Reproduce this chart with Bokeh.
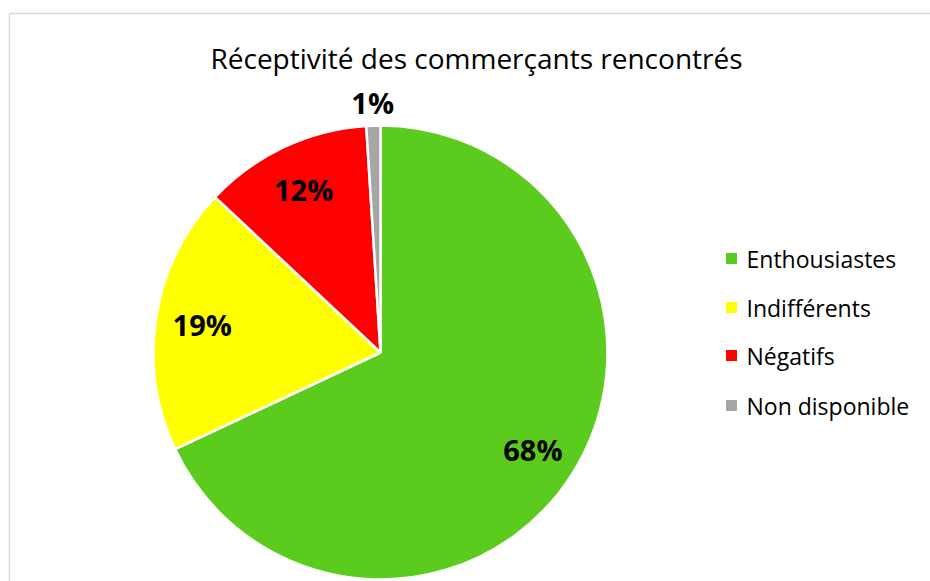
import math
from bokeh.plotting import figure
from bokeh.models import Range1d, ColumnDataSource
from bokeh.core.properties import value
from bokeh.embed import file_html
from bokeh.resources import INLINE

# ---- data ----
title_text = "Réceptivité des commerçants rencontrés"
categories = ["Enthousiastes", "Indifférents", "Négatifs", "Non disponible"]
percents = [68, 19, 12, 1]
colors = ["#5BCB1E", "#FFFF00", "#FF0000", "#A6A6A6"]

W, H = 930, 581
p = figure(width=W, height=H, output_backend="svg", toolbar_location=None,
           x_range=Range1d(0, W), y_range=Range1d(0, H),
           x_axis_location=None, y_axis_location=None,
           min_border=0, outline_line_color=None)
p.grid.visible = False
p.background_fill_color = "white"
p.border_fill_color = "white"

# border of chart area (top & left visible in reference)
p.line(x=[9, 9], y=[0, 568], line_color="#D9D9D9", line_width=1.5)
p.line(x=[9, W], y=[568, 568], line_color="#D9D9D9", line_width=1.5)

# pie geometry
cx, cy, R = 380, 229, 227
total = sum(percents)
starts, ends, lx, ly, labels = [], [], [], [], []
acc = 0.0
for v in percents:
    a0 = math.pi / 2 - 2 * math.pi * acc / total
    acc += v
    a1 = math.pi / 2 - 2 * math.pi * acc / total
    starts.append(a0)
    ends.append(a1)
    mid = (a0 + a1) / 2
    rr = 0.795 * R if v / total > 0.05 else 1.1 * R
    lx.append(cx + rr * math.cos(mid))
    ly.append(cy + rr * math.sin(mid))
    labels.append(f"{v}%")

src = ColumnDataSource(dict(start=starts, end=ends, color=colors,
                            lx=lx, ly=ly, label=labels))
p.wedge(x=cx, y=cy, radius=R, start_angle="end", end_angle="start",
        fill_color="color", line_color="white", line_width=2.5, source=src)

p.text(x="lx", y="ly", text="label", source=src, text_align="center",
       text_baseline="middle", text_font=value("Open Sans"),
       text_font_style="bold", text_font_size="29px", text_color="black")

# title
p.text(x=[476], y=[H - 57], text=[title_text], text_align="center",
       text_baseline="middle", text_font=value("Open Sans"),
       text_font_size="28px", text_color="#000000")

# legend
leg_y = [H - 258, H - 307, H - 355, H - 405]
leg = ColumnDataSource(dict(y=leg_y, color=colors, name=categories))
p.scatter(x=731, y="y", marker="square", size=11, fill_color="color",
          line_color=None, source=leg)
p.text(x=746, y="y", text="name", source=leg, text_align="left",
       text_baseline="middle", text_font=value("Open Sans"),
       text_font_size="23px", text_color="#000000")

open("out.html", "w").write(file_html(p, INLINE))
